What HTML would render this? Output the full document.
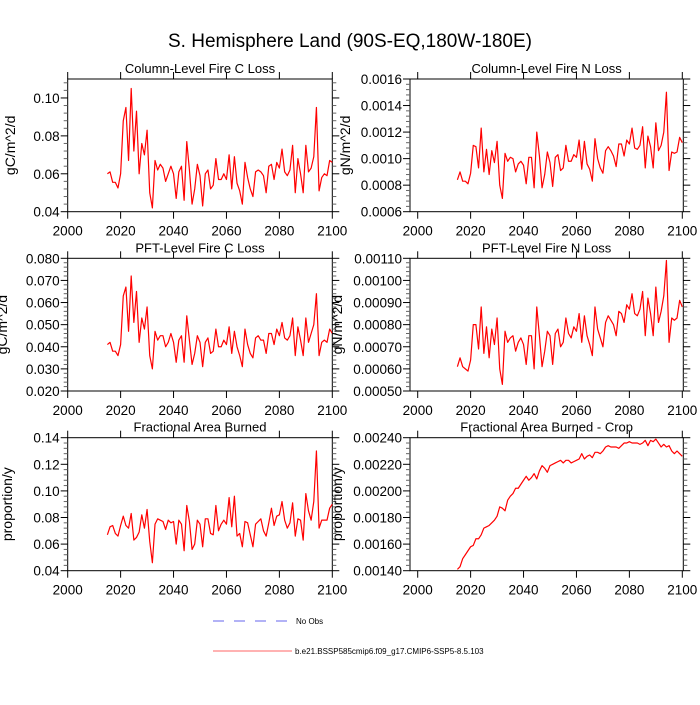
<!DOCTYPE html>
<html><head><meta charset="utf-8"><style>
body{margin:0;background:#fff}
svg{font-family:"Liberation Sans",sans-serif}
</style></head><body>
<svg id="chart" width="700" height="700" viewBox="0 0 700 700">
<text x="350" y="47" text-anchor="middle" font-size="19">S. Hemisphere Land (90S-EQ,180W-180E)</text>
<g id="panels"></g>
<g>
<line x1="213" y1="621" x2="288" y2="621" stroke="#6666ee" stroke-width="1" stroke-dasharray="11,10"/>
<text x="296" y="624" font-size="8">No Obs</text>
<line x1="213" y1="651" x2="292" y2="651" stroke="#ff6666" stroke-width="1"/>
<text x="295" y="654" font-size="8">b.e21.BSSP585cmip6.f09_g17.CMIP6-SSP5-8.5.103</text>
</g>
</svg>
<script>
const startYear = 2015;
const colC = [0.060,0.061,0.0555,0.0555,0.0525,0.060,0.088,0.095,0.067,0.105,
0.072,0.093,0.060,0.076,0.070,0.083,0.050,0.042,0.067,0.062,
0.065,0.063,0.056,0.060,0.064,0.060,0.047,0.061,0.064,0.046,
0.077,0.062,0.044,0.052,0.065,0.059,0.043,0.060,0.062,0.052,
0.054,0.068,0.057,0.057,0.060,0.057,0.070,0.052,0.069,0.055,
0.051,0.044,0.066,0.058,0.052,0.048,0.061,0.062,0.061,0.059,
0.050,0.064,0.065,0.057,0.066,0.063,0.073,0.061,0.059,0.062,
0.075,0.050,0.068,0.060,0.050,0.075,0.061,0.063,0.069,0.095,
0.051,0.058,0.060,0.059,0.067,0.066];
const colN = [8.4,9.0,8.3,8.3,8.1,8.9,11.0,10.9,9.3,12.3,
9.0,10.7,8.8,10.6,9.7,11.3,8.0,7.0,10.4,9.8,
10.1,10.0,9.0,9.6,9.8,9.5,8.1,10.1,10.1,7.8,
12.0,10.2,7.8,8.8,10.5,9.7,7.9,10.1,10.3,9.1,
9.3,11.0,9.8,9.8,10.3,10.1,11.4,9.2,11.3,9.6,
9.2,8.3,11.5,10.0,9.3,8.9,10.6,10.9,10.6,10.2,
9.4,11.1,11.1,10.2,11.4,11.1,12.3,10.8,10.7,11.0,
12.4,9.3,11.7,10.9,9.3,12.7,10.6,11.0,12.0,15.0,
9.1,10.5,10.4,10.5,11.6,11.2].map(v=>v*1e-4);
const pftC = [0.041,0.042,0.038,0.038,0.036,0.041,0.063,0.067,0.047,0.072,
0.051,0.065,0.042,0.053,0.048,0.058,0.036,0.030,0.047,0.043,
0.045,0.045,0.040,0.042,0.046,0.042,0.033,0.043,0.045,0.033,
0.054,0.043,0.032,0.037,0.045,0.042,0.031,0.042,0.044,0.037,
0.038,0.048,0.040,0.040,0.043,0.041,0.049,0.037,0.047,0.040,
0.036,0.031,0.048,0.041,0.037,0.035,0.044,0.045,0.043,0.043,
0.037,0.046,0.046,0.041,0.048,0.045,0.051,0.044,0.043,0.045,
0.053,0.036,0.049,0.043,0.036,0.053,0.042,0.046,0.050,0.064,
0.036,0.042,0.043,0.042,0.048,0.046];
const pftN = [61,65,61,60,59,64,80,80,69,88,
67,79,65,78,71,83,60,53,77,72,
74,75,68,72,74,71,62,75,75,60,
88,75,61,68,77,75,62,76,78,70,
72,83,76,74,79,77,85,72,84,75,
71,66,88,78,74,70,81,84,82,80,
75,86,85,81,89,87,94,85,84,87,
95,75,92,85,75,97,81,86,93,109,
72,83,82,83,91,88].map(v=>v*1e-5);
const farea = [0.067,0.073,0.074,0.068,0.066,0.074,0.081,0.074,0.072,0.083,
0.063,0.065,0.069,0.082,0.072,0.086,0.062,0.046,0.075,0.079,
0.078,0.077,0.071,0.078,0.076,0.077,0.060,0.078,0.075,0.055,
0.089,0.077,0.056,0.060,0.078,0.075,0.058,0.079,0.079,0.068,
0.067,0.089,0.070,0.075,0.078,0.075,0.095,0.073,0.096,0.066,
0.068,0.058,0.077,0.076,0.067,0.058,0.075,0.077,0.079,0.070,
0.066,0.076,0.087,0.074,0.081,0.082,0.092,0.078,0.072,0.076,
0.091,0.066,0.079,0.078,0.063,0.098,0.085,0.078,0.092,0.130,
0.072,0.078,0.078,0.078,0.087,0.090];
const fcrop = [141,143,149,152,155,158,159,164,164,167,
172,173,174,176,178,181,188,187,185,193,
196,198,202,202,205,208,211,208,210,213,
209,215,219,217,214,219,220,221,222,223,
221,223,223,221,222,223,224,228,224,226,
227,225,229,229,228,230,233,234,233,233,
233,232,234,236,236,237,236,236,236,235,
236,238,234,238,237,239,236,233,235,233,
234,230,228,230,228,226].map(v=>v*1e-5);
const xTicks = [2000,2020,2040,2060,2080,2100];
const yTicks1 = ["0.04","0.06","0.08","0.10"];
const yTicks2 = ["0.0006","0.0008","0.0010","0.0012","0.0014","0.0016"];
const yTicks3 = ["0.020","0.030","0.040","0.050","0.060","0.070","0.080"];
const yTicks4 = ["0.00050","0.00060","0.00070","0.00080","0.00090","0.00100","0.00110"];
const yTicks5 = ["0.04","0.06","0.08","0.10","0.12","0.14"];
const yTicks6 = ["0.00140","0.00160","0.00180","0.00200","0.00220","0.00240"];

const NS="http://www.w3.org/2000/svg";
function mk(tag,attrs,parent){const e=document.createElementNS(NS,tag);for(const k in attrs)e.setAttribute(k,attrs[k]);parent.appendChild(e);return e;}
const root=document.getElementById('panels');

function panel(o){
  const g=mk('g',{},root);
  
  
  const x=yr=>o.x2000+(yr-2000)*(o.x2100-o.x2000)/100;
  const y=v=>o.bottom-(v-o.ymin)/(o.ymax-o.ymin)*(o.bottom-o.top);
  const t=mk('text',{x:(o.left+o.right)/2,y:o.top-6,'text-anchor':'middle','font-size':13},g);
  t.textContent=o.title;
  
  
  const fr=mk('rect',{x:o.left,y:o.top,width:o.right-o.left,height:o.bottom-o.top,fill:'none',stroke:'#000','stroke-width':1},g);
  
  
  const tv=o.ticks.map(parseFloat);
  const major=tv[1]-tv[0], minor=major/5;
  for(let i=0;;i++){
    const v=tv[0]+i*minor; if(v>o.ymax+1e-12) break;
    const yy=y(v), isMaj=i%5===0, L=isMaj?7:4;
    mk('line',{x1:o.left-L,y1:yy,x2:o.left,y2:yy,stroke:isMaj?'#000':'#666','stroke-width':1},g);
    mk('line',{x1:o.right,y1:yy,x2:o.right+L,y2:yy,stroke:isMaj?'#000':'#666','stroke-width':1},g);
  }
  o.ticks.forEach((lab,i)=>{
    const tt=mk('text',{x:o.left-8,y:y(tv[i])+5,'text-anchor':'end','font-size':13.5},g);
    tt.textContent=lab;
    
    
  });
  xTicks.forEach(yr=>{
    const xx=x(yr);
    mk('line',{x1:xx,y1:o.bottom,x2:xx,y2:o.bottom+7,stroke:'#000'},g);
    mk('line',{x1:xx,y1:o.top-7,x2:xx,y2:o.top,stroke:'#000'},g);
    const tt=mk('text',{x:xx,y:o.bottom+24,'text-anchor':'middle','font-size':13.5},g);
    tt.textContent=yr;
    
    
  });
  const cy=(o.top+o.bottom)/2;
  const yl=mk('text',{x:o.ylx,y:cy,'text-anchor':'middle','font-size':14,transform:`rotate(-90 ${o.ylx} ${cy})`},g);
  yl.textContent=o.ylab;
  
  
  const pts=o.data.map((v,i)=>x(startYear+i).toFixed(2)+','+y(v).toFixed(2)).join(' ');
  const pl=mk('polyline',{points:pts,fill:'none',stroke:'#ff0000','stroke-width':1.2,'stroke-linejoin':'round'},g);
  
  
}
const L={left:67.7,right:332.3,x2000:67.7,x2100:332.3,ylx:15};
const R={left:410,right:683.3,x2000:417.7,x2100:682.3,ylx:350};
const rows=[{top:79,bottom:211.7},{top:258.3,bottom:391},{top:437.7,bottom:570.7}];
panel({...L,...rows[0],name:'col-fire-c',title:'Column-Level Fire C Loss',ylab:'gC/m^2/d',ymin:0.04,ymax:0.11,ticks:yTicks1,data:colC});
panel({...R,...rows[0],name:'col-fire-n',title:'Column-Level Fire N Loss',ylab:'gN/m^2/d',ymin:0.0006,ymax:0.0016,ticks:yTicks2,data:colN});
panel({...L,...rows[1],ylx:7,name:'pft-fire-c',title:'PFT-Level Fire C Loss',ylab:'gC/m^2/d',ymin:0.02,ymax:0.08,ticks:yTicks3,data:pftC});
panel({...R,...rows[1],ylx:342,name:'pft-fire-n',title:'PFT-Level Fire N Loss',ylab:'gN/m^2/d',ymin:0.0005,ymax:0.0011,ticks:yTicks4,data:pftN});
panel({...L,...rows[2],ylx:12,name:'frac-area',title:'Fractional Area Burned',ylab:'proportion/y',ymin:0.04,ymax:0.14,ticks:yTicks5,data:farea});
panel({...R,...rows[2],ylx:342,name:'frac-area-crop',title:'Fractional Area Burned - Crop',ylab:'proportion/y',ymin:0.0014,ymax:0.0024,ticks:yTicks6,data:fcrop});
</script>
</body></html>
